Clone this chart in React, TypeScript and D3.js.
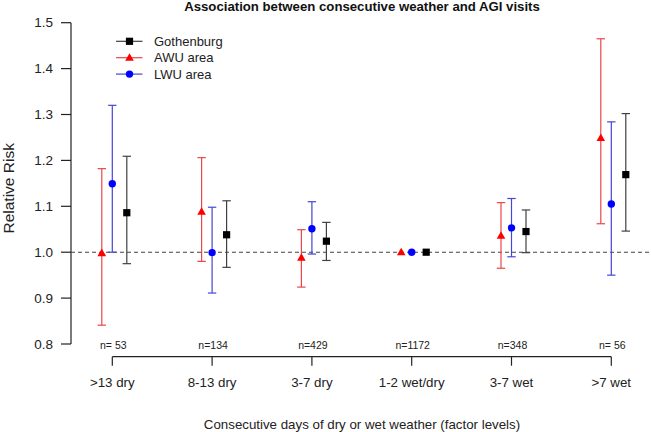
import React from "react";
import * as d3 from "d3";

const categories = [">13 dry", "8-13 dry", "3-7 dry", "1-2 wet/dry", "3-7 wet", ">7 wet"];
const nLabels = ["n= 53", "n=134", "n=429", "n=1172", "n=348", "n= 56"];
const yTicks = [0.8, 0.9, 1.0, 1.1, 1.2, 1.3, 1.4, 1.5];

const seriesNames = ["Gothenburg", "AWU area", "LWU area"];

// estimates, lower, upper (null = no error bar)
const gothEst = [1.086, 1.038, 1.024, 1.0, 1.045, 1.169];
const gothLo = [0.975, 0.967, 0.982, null, 0.999, 1.046];
const gothHi = [1.209, 1.112, 1.065, null, 1.092, 1.302];

const awuEst = [0.998, 1.088, 0.988, 1.0, 1.036, 1.249];
const awuLo = [0.841, 0.98, 0.924, null, 0.965, 1.062];
const awuHi = [1.182, 1.206, 1.049, null, 1.108, 1.465];

const lwuEst = [1.149, 0.999, 1.051, 1.0, 1.053, 1.105];
const lwuLo = [1.0, 0.911, 0.996, null, 0.99, 0.95];
const lwuHi = [1.32, 1.098, 1.11, null, 1.117, 1.284];

const W = 651;
const H = 432;
const FONT = "'Liberation Sans', Arial, sans-serif";

type Series = {
  name: string;
  est: number[];
  lo: (number | null)[];
  hi: (number | null)[];
  color: string;
  barColor: string;
  shape: "square" | "triangle" | "circle";
  offset: number;
};

const series: Series[] = [
  { name: seriesNames[1], est: awuEst, lo: awuLo, hi: awuHi, color: "#ff0000", barColor: "#e8474a", shape: "triangle", offset: -10.5 },
  { name: seriesNames[2], est: lwuEst, lo: lwuLo, hi: lwuHi, color: "#0000ff", barColor: "#4545d8", shape: "circle", offset: 0 },
  { name: seriesNames[0], est: gothEst, lo: gothLo, hi: gothHi, color: "#000000", barColor: "#404040", shape: "square", offset: 14.5 },
];

function Marker({ shape, x, y, color }: { shape: string; x: number; y: number; color: string }) {
  if (shape === "square") return <rect x={x - 3.6} y={y - 3.6} width={7.2} height={7.2} fill={color} />;
  if (shape === "circle") return <circle cx={x} cy={y} r={3.7} fill={color} />;
  const s = 4.3;
  return <path d={`M${x},${y - s * 1.05} L${x + s},${y + s * 0.7} L${x - s},${y + s * 0.7} Z`} fill={color} />;
}

export default function App() {
  const y = d3.scaleLinear().domain([0.8, 1.5]).range([344, 22.7]);
  const x = d3.scalePoint<string>().domain(categories).range([112.3, 611.3]);
  const axisX = 71;
  const axisY = 356.7;

  const legendOrder = [series[2], series[0], series[1]];

  return (
    <svg width={W} height={H} style={{ position: "absolute", left: 0, top: 0, background: "#fff" }} fontFamily={FONT}>
      <rect width={W} height={H} fill="#fff" />
      <text x={362} y={10.5} textAnchor="middle" fontWeight="bold" fontSize={13.2} fill="#111">
        Association between consecutive weather and AGI visits
      </text>

      {/* Y axis */}
      <line x1={axisX} x2={axisX} y1={y(0.8)} y2={y(1.5)} stroke="#222" strokeWidth={1.2} />
      {yTicks.map((t) => (
        <g key={t}>
          <line x1={axisX - 10} x2={axisX} y1={y(t)} y2={y(t)} stroke="#222" strokeWidth={1.2} />
          <text x={53} y={y(t)} textAnchor="end" dominantBaseline="central" fontSize={13.5} fill="#222">
            {d3.format(".1f")(t)}
          </text>
        </g>
      ))}
      <text
        transform={`translate(8.5,188.3) rotate(-90)`}
        textAnchor="middle"
        dominantBaseline="central"
        fontSize={15.5}
        fill="#222"
      >
        Relative Risk
      </text>

      {/* reference line */}
      <line x1={axisX} x2={W} y1={y(1)} y2={y(1)} stroke="#444" strokeWidth={1.1} strokeDasharray="4,3" />

      {/* X axis */}
      <line x1={x(categories[0])} x2={x(categories[categories.length - 1])} y1={axisY} y2={axisY} stroke="#222" strokeWidth={1.2} />
      {categories.map((c, i) => (
        <g key={c}>
          <line x1={x(c)} x2={x(c)} y1={axisY} y2={axisY + 9} stroke="#222" strokeWidth={1.2} />
          <text x={x(c)} y={382} textAnchor="middle" dominantBaseline="central" fontSize={13.3} fill="#222">
            {c}
          </text>
          <text x={x(c)! + 1} y={344.5} textAnchor="middle" dominantBaseline="central" fontSize={10.5} fill="#222">
            {nLabels[i]}
          </text>
        </g>
      ))}
      <text x={362} y={424} textAnchor="middle" dominantBaseline="central" fontSize={13.3} fill="#222">
        Consecutive days of dry or wet weather (factor levels)
      </text>

      {/* error bars and points */}
      {series.map((s) => (
        <g key={s.name}>
          {categories.map((c, i) => {
            const cx = x(c)! + s.offset;
            const lo = s.lo[i];
            const hi = s.hi[i];
            return (
              <g key={c}>
                {lo !== null && hi !== null && (
                  <g stroke={s.barColor} strokeWidth={1.2}>
                    <line x1={cx} x2={cx} y1={y(lo)} y2={y(hi)} />
                    <line x1={cx - 4.2} x2={cx + 4.2} y1={y(lo)} y2={y(lo)} />
                    <line x1={cx - 4.2} x2={cx + 4.2} y1={y(hi)} y2={y(hi)} />
                  </g>
                )}
                <Marker shape={s.shape} x={cx} y={y(s.est[i])} color={s.color} />
              </g>
            );
          })}
        </g>
      ))}

      {/* legend */}
      {legendOrder.map((s, i) => {
        const ly = 41.3 + i * 16.4;
        return (
          <g key={s.name}>
            <line x1={116} x2={142.5} y1={ly} y2={ly} stroke={s.barColor} strokeWidth={1.2} />
            <Marker shape={s.shape} x={129.5} y={ly} color={s.color} />
            <text x={154} y={ly} dominantBaseline="central" fontSize={13} fill="#222">
              {s.name}
            </text>
          </g>
        );
      })}
    </svg>
  );
}
